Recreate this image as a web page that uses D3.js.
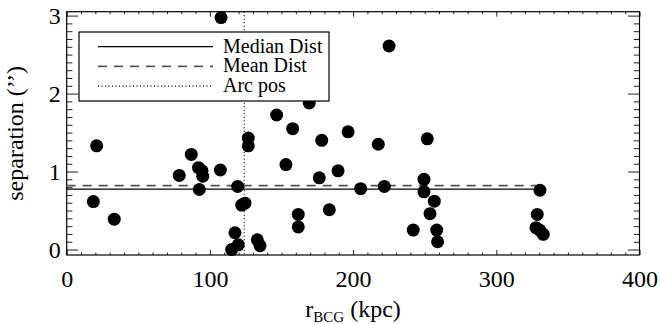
<!DOCTYPE html>
<html>
<head>
<meta charset="utf-8">
<script src="https://cdn.jsdelivr.net/npm/d3@7"></script>
<style>
  body { margin: 0; background: #fff; }
  svg { display: block; }
  .domain { display: none; }
</style>
</head>
<body>
<div id="chart"></div>
<script>
// distance from BCG (kpc)
const rBcg = [
  18.6, 20.9, 33.2, 78.6, 87.0, 92.0, 94.5, 95.0, 92.6, 107.3,
  107.8, 115.2, 117.5, 119.8, 119.4, 122.2, 124.5, 126.8, 126.8, 133.1,
  135.0, 146.6, 153.1, 157.8, 161.7, 161.7, 169.4, 176.4, 178.1, 183.4,
  189.5, 196.5, 205.3, 217.6, 221.8, 225.1, 242.0, 249.5, 249.5, 251.8,
  256.7, 253.7, 258.4, 259.0, 327.7, 328.6, 330.3, 330.5, 332.8
];
// separation (arcsec)
const separation = [
  0.615, 1.33, 0.39, 0.95, 1.22, 1.05, 1.01, 0.94, 0.77, 1.02,
  2.975, 0.0, 0.215, 0.06, 0.81, 0.57, 0.594, 1.43, 1.33, 0.124,
  0.05, 1.725, 1.09, 1.55, 0.45, 0.29, 1.88, 0.92, 1.40, 0.51,
  1.01, 1.51, 0.78, 1.35, 0.81, 2.61, 0.25, 0.9, 0.74, 1.42,
  0.62, 0.46, 0.25, 0.10, 0.28, 0.45, 0.25, 0.76, 0.195
];
const medianDist = 0.775;
const meanDist = 0.82;
const arcPos = 124;

const xTicks = [0, 100, 200, 300, 400];
const yTicks = [0, 1, 2, 3];
const legendLabels = ["Median Dist", "Mean Dist", "Arc pos"];

const W = 660, H = 324;
const mLeft = 66.7, mRight = 639.5, mTop = 11.7, mBottom = 255;
const FONT = '"Liberation Serif"';

const svg = d3.select("#chart").append("svg")
  .attr("width", W)
  .attr("height", H)
  .style("font-family", FONT);

const x = d3.scaleLinear().domain([0, 400]).range([mLeft, mRight]);
const y = d3.scaleLinear().domain([-0.07, 3.05]).range([mBottom, mTop]);

const xMinor = d3.range(0, 401, 10).filter(v => v % 100 !== 0);
const yMinor = d3.range(1, 31).map(v => v / 10).filter(v => v <= 3.05 && Math.abs(v - Math.round(v)) > 1e-6);

// ticks, inward on all four sides (IDL style)
const xMajLen = 5, xMinLen = 2.5, yMajLen = 11.5, yMinLen = 5.7;

svg.append("g").attr("transform", `translate(0,${mBottom})`)
  .call(d3.axisBottom(x).tickValues(xTicks).tickSize(-xMajLen).tickPadding(15).tickFormat(d3.format("d")));
svg.append("g").attr("transform", `translate(0,${mBottom})`)
  .call(d3.axisBottom(x).tickValues(xMinor).tickSize(-xMinLen).tickFormat(""));
svg.append("g").attr("transform", `translate(0,${mTop})`)
  .call(d3.axisTop(x).tickValues(xTicks).tickSize(-xMajLen).tickFormat(""));
svg.append("g").attr("transform", `translate(0,${mTop})`)
  .call(d3.axisTop(x).tickValues(xMinor).tickSize(-xMinLen).tickFormat(""));

svg.append("g").attr("transform", `translate(${mLeft},0)`)
  .call(d3.axisLeft(y).tickValues(yTicks).tickSize(-yMajLen).tickPadding(6).tickFormat(d3.format("d")));
svg.append("g").attr("transform", `translate(${mLeft},0)`)
  .call(d3.axisLeft(y).tickValues(yMinor).tickSize(-yMinLen).tickFormat(""));
svg.append("g").attr("transform", `translate(${mRight},0)`)
  .call(d3.axisRight(y).tickValues(yTicks).tickSize(-yMajLen).tickFormat(""));
svg.append("g").attr("transform", `translate(${mRight},0)`)
  .call(d3.axisRight(y).tickValues(yMinor).tickSize(-yMinLen).tickFormat(""));

svg.selectAll(".tick line").attr("stroke", "#222");
svg.selectAll(".tick text")
  .style("font-family", FONT)
  .style("font-size", "24px")
  .style("fill", "#000");

// frame
svg.append("rect")
  .attr("x", mLeft).attr("y", mTop)
  .attr("width", mRight - mLeft).attr("height", mBottom - mTop)
  .attr("fill", "none").attr("stroke", "#000").attr("stroke-width", 1.2);

// median / mean lines
svg.append("line")
  .attr("x1", x(0)).attr("x2", x(d3.max(rBcg)))
  .attr("y1", y(medianDist)).attr("y2", y(medianDist))
  .attr("stroke", "#000").attr("stroke-width", 1.2);
svg.append("line")
  .attr("x1", x(0)).attr("x2", x(d3.max(rBcg)))
  .attr("y1", y(meanDist)).attr("y2", y(meanDist))
  .attr("stroke", "#555").attr("stroke-width", 1.6)
  .attr("stroke-dasharray", "9,7");

// arc position
svg.append("line")
  .attr("x1", x(arcPos)).attr("x2", x(arcPos))
  .attr("y1", mTop).attr("y2", mBottom)
  .attr("stroke", "#000").attr("stroke-width", 1.2)
  .attr("stroke-dasharray", "1,2.5");

// points
svg.append("g").selectAll("circle")
  .data(rBcg.map((r, i) => [r, separation[i]]))
  .enter()
  .append("circle")
  .attr("cx", d => x(d[0]))
  .attr("cy", d => y(d[1]))
  .attr("r", 6.5)
  .attr("fill", "#000");

// legend
const legend = svg.append("g");
legend.append("rect")
  .attr("x", 79).attr("y", 32).attr("width", 250).attr("height", 69)
  .attr("fill", "#fff").attr("stroke", "#000").attr("stroke-width", 1.2);
const dashes = [null, "9,7", "1,2.5"];
const strokes = ["#000", "#555", "#000"];
legendLabels.forEach((lab, i) => {
  const ly = 46.7 + i * 19.7;
  legend.append("line")
    .attr("x1", 98).attr("x2", 213).attr("y1", ly).attr("y2", ly)
    .attr("stroke", strokes[i]).attr("stroke-width", i === 1 ? 1.6 : 1.2)
    .attr("stroke-dasharray", dashes[i]);
  legend.append("text")
    .attr("x", 223).attr("y", ly + 6)
    .style("font-family", FONT)
    .style("font-size", "20px")
    .text(lab);
});

// axis titles
const xt = svg.append("text")
  .attr("x", (mLeft + mRight) / 2).attr("y", 317)
  .attr("text-anchor", "middle")
  .style("font-family", FONT)
  .style("font-size", "24px");
xt.append("tspan").text("r");
xt.append("tspan").attr("dy", 5).style("font-size", "15px").text("BCG");
xt.append("tspan").attr("dy", -5).text(" (kpc)");

svg.append("text")
  .attr("transform", `translate(23,${(mTop + mBottom) / 2}) rotate(-90)`)
  .attr("text-anchor", "middle")
  .style("font-family", FONT)
  .style("font-size", "24px")
  .text("separation (\u2019\u2019)");
</script>
</body>
</html>
